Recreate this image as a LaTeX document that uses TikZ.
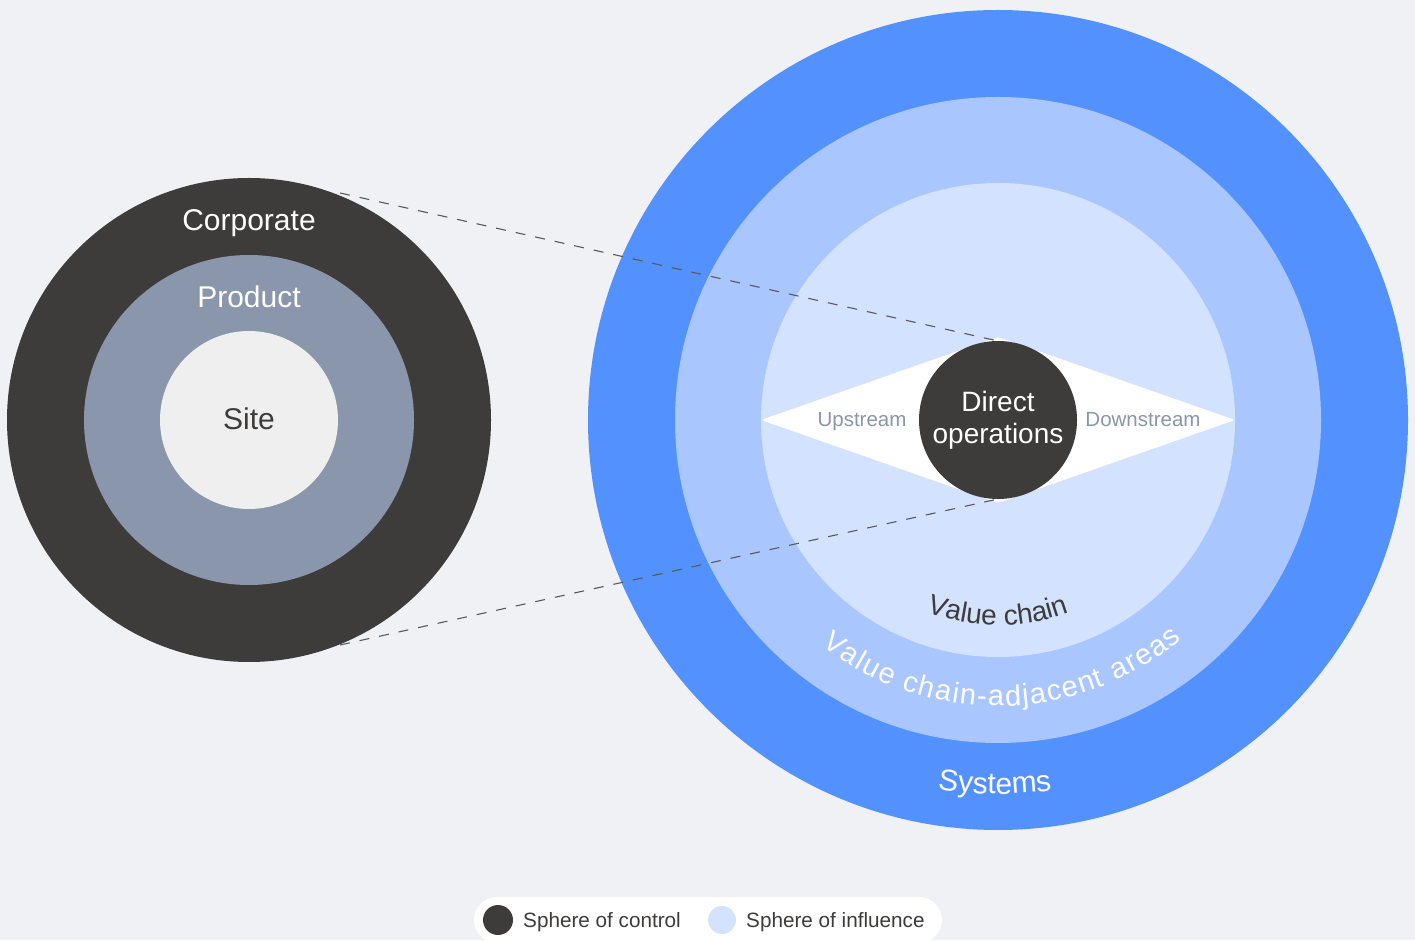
\documentclass[tikz,border=0pt]{standalone}
\usepackage{fontspec}
\setmainfont{Liberation Sans}
\usetikzlibrary{decorations.text}

\definecolor{paper}{HTML}{EFF1F5}
\definecolor{charcoal}{HTML}{3D3C3B}
\definecolor{slate}{HTML}{8A96AB}
\definecolor{pale}{HTML}{EFEFEF}
\definecolor{deepblue}{HTML}{5391FF}
\definecolor{midblue}{HTML}{A9C6FF}
\definecolor{lightblue}{HTML}{D3E2FF}

\begin{document}
\begin{tikzpicture}
    [x=1pt, y=1pt,
     disc/.style={circle, inner sep=0pt, outer sep=0pt, minimum size=#1},
     ring label/.style={anchor=base, text=white, font=\fontsize{30}{34}\selectfont},
     flow label/.style={anchor=base, text=slate, font=\fontsize{20.5}{24}\selectfont},
     key label/.style={anchor=base west, inner sep=0pt, text=charcoal, font=\fontsize{20.7}{24}\selectfont},
     cut line/.style={draw=charcoal!85, line width=1.1pt, dash pattern=on 10pt off 10pt}]
    \useasboundingbox (0, 0) rectangle (1415, 940);
    \fill[paper] (0, 0) rectangle (1415, 940);

    % sphere of control
    \node[disc=484, fill=charcoal] (corporate) at (249, 520) {};
    \node[disc=330, fill=slate] (product) at (249, 520) {};
    \node[disc=178, fill=pale] (site) at (249, 520) {};
    \node[ring label] at (249, 709) {Corporate};
    \node[ring label] at (249, 632) {Product};
    \node[ring label, text=charcoal] at (249, 510) {Site};

    % sphere of influence
    \coordinate (focus) at (998, 520);
    \node[disc=820, fill=deepblue] (systems) at (focus) {};
    \node[disc=646, fill=midblue] (adjacent) at (focus) {};
    \node[disc=474, fill=lightblue] (chain) at (focus) {};
    \fill[white, rounded corners=3pt] (chain.west) -- (998, 603) -- (chain.east) -- (998, 437) -- cycle;

    % zoom lines from the control circle
    \coordinate (top cut) at (340, 747);
    \coordinate (bottom cut) at (340, 295);
    \draw[cut line] (top cut) -- (998, 599);
    \draw[cut line] (bottom cut) -- (998, 441);

    \node[disc=158, fill=charcoal, text=white, align=center,
      font=\fontsize{28}{32}\selectfont] (direct) at (focus) {Direct\\operations};
    \node[flow label] (upstream) at (862, 513) {Upstream};
    \node[flow label] (downstream) at (1143, 513) {Downstream};

    \path[decorate, decoration={text along path, text align=center, text color=charcoal,
      text={|\fontsize{28}{30}\selectfont|Value chain}}]
      (focus) ++(235:205) arc [start angle=235, end angle=305, radius=205];
    \path[decorate, decoration={text along path, text align=fit to path, text color=white,
      text={|\fontsize{29}{30}\selectfont|Value chain-adjacent areas}}]
      (focus) ++(232:286) arc [start angle=232, end angle=310, radius=286];
    \path[decorate, decoration={text along path, text align=center, text color=white,
      text={|\fontsize{30}{32}\selectfont|Systems}}]
      (focus) ++(250:374) arc [start angle=250, end angle=289, radius=374];

    % legend
    \node[fill=white, rounded corners=23pt, minimum width=468, minimum height=46,
      inner sep=0pt] (legend) at (708, 20) {};
    \node[disc=30, fill=charcoal] (control dot) at (498, 20) {};
    \node[key label] (control) at (523, 13) {Sphere of control};
    \node[disc=28, fill=lightblue] (influence dot) at (722, 20) {};
    \node[key label] (influence) at (746, 13) {Sphere of influence};
  \end{tikzpicture}
\end{document}
